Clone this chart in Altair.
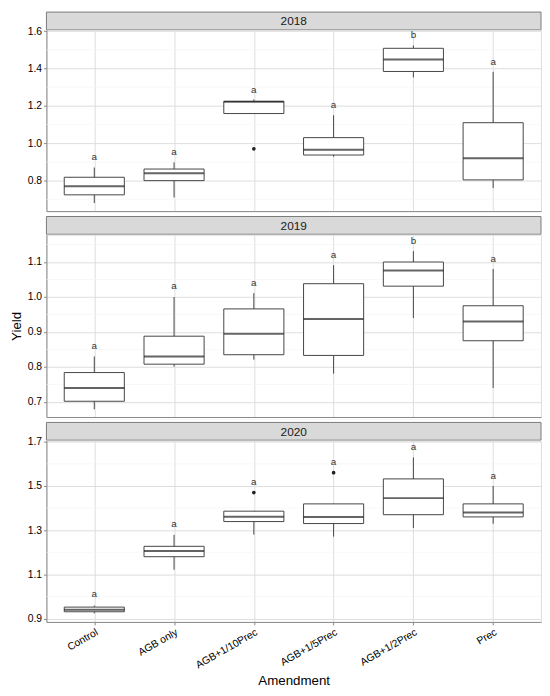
import altair as alt
import pandas as pd

amendments = ["Control", "AGB only", "AGB+1/10Prec", "AGB+1/5Prec", "AGB+1/2Prec", "Prec"]

# 2018
lower_2018 = [0.68, 0.71, 1.159, 0.928, 1.352, 0.76]
q1_2018 = [0.724, 0.80, 1.159, 0.937, 1.384, 0.804]
median_2018 = [0.77, 0.84, 1.222, 0.965, 1.448, 0.92]
q3_2018 = [0.818, 0.862, 1.224, 1.03, 1.508, 1.11]
upper_2018 = [0.87, 0.898, 1.234, 1.15, 1.523, 1.382]
label_y_2018 = [0.925, 0.955, 1.287, 1.206, 1.579, 1.436]
letters_2018 = ["a", "a", "a", "a", "b", "a"]
outlier_cat_2018 = ["AGB+1/10Prec"]
outlier_val_2018 = [0.97]

# 2019
lower_2019 = [0.679, 0.801, 0.821, 0.781, 0.94, 0.74]
q1_2019 = [0.702, 0.808, 0.835, 0.833, 1.031, 0.875]
median_2019 = [0.74, 0.83, 0.895, 0.937, 1.076, 0.93]
q3_2019 = [0.784, 0.888, 0.966, 1.038, 1.10, 0.975]
upper_2019 = [0.83, 1.0, 1.011, 1.091, 1.131, 1.08]
label_y_2019 = [0.86, 1.03, 1.041, 1.121, 1.161, 1.109]
letters_2019 = ["a", "a", "a", "a", "b", "a"]
outlier_cat_2019 = []
outlier_val_2019 = []

# 2020
lower_2020 = [0.924, 1.121, 1.28, 1.271, 1.31, 1.329]
q1_2020 = [0.931, 1.18, 1.339, 1.33, 1.37, 1.36]
median_2020 = [0.94, 1.206, 1.361, 1.36, 1.445, 1.38]
q3_2020 = [0.952, 1.227, 1.386, 1.419, 1.532, 1.419]
upper_2020 = [0.959, 1.279, 1.386, 1.419, 1.629, 1.50]
label_y_2020 = [1.009, 1.327, 1.517, 1.606, 1.676, 1.547]
letters_2020 = ["a", "a", "a", "a", "a", "a"]
outlier_cat_2020 = ["AGB+1/10Prec", "AGB+1/5Prec"]
outlier_val_2020 = [1.47, 1.56]

domains = {"2018": [0.637, 1.607], "2019": [0.657, 1.178], "2020": [0.885, 1.705]}
major_ticks = {
    "2018": [0.8, 1.0, 1.2, 1.4, 1.6],
    "2019": [0.7, 0.8, 0.9, 1.0, 1.1],
    "2020": [0.9, 1.1, 1.3, 1.5, 1.7],
}
minor_ticks = {
    "2018": [0.7, 0.9, 1.1, 1.3, 1.5],
    "2019": [0.65, 0.75, 0.85, 0.95, 1.05, 1.15],
    "2020": [1.0, 1.2, 1.4, 1.6],
}

W = 502
FONT = "Liberation Sans"
BORDER = "#7a7a7a"


def strip_chart(year, gap):
    h = 18 + gap
    base = alt.Chart(pd.DataFrame({"year": [year]}))
    band = base.mark_rect(fill="#d9d9d9", stroke=BORDER, strokeWidth=1).encode(
        x=alt.value(0), x2=alt.value(W), y=alt.value(gap), y2=alt.value(h)
    )
    label = base.mark_text(font=FONT, fontSize=12, color="#1a1a1a").encode(
        text="year:N", x=alt.value(W / 2), y=alt.value(gap + 9.5)
    )
    return alt.layer(band, label).properties(
        width=W, height=h, view=alt.ViewBackground(stroke="transparent")
    )


def box_panel(year, lower, q1, med, q3, upper, label_y, letters, out_cat, out_val, height, bottom, ytitle):
    df = pd.DataFrame({
        "amendment": amendments, "lower": lower, "q1": q1, "median": med,
        "q3": q3, "upper": upper, "label_y": label_y, "letter": letters,
    })
    out = pd.DataFrame({"amendment": out_cat, "value": out_val})
    minor = pd.DataFrame({"v": minor_ticks[year]})

    if bottom:
        xaxis = alt.Axis(title="Amendment", grid=True, labelAngle=-30, labelAlign="right",
                         labelBaseline="top", labelFontSize=10.5, labelPadding=2, tickSize=3,
                         titleFontSize=13.5, titleFontWeight="normal", titleColor="#000000",
                         titlePadding=3)
    else:
        xaxis = alt.Axis(title=None, grid=True, labels=False, ticks=False)
    x = alt.X("amendment:N", sort=amendments, scale=alt.Scale(type="point", padding=0.6), axis=xaxis)
    yscale = alt.Scale(domain=domains[year], nice=False, zero=False)
    yaxis = alt.Axis(values=major_ticks[year], format=".1f", grid=True, labelFontSize=10.5,
                     tickSize=3, labelPadding=2, titleFontSize=13.5, titleFontWeight="normal",
                     titleColor="#000000", titlePadding=4)

    def yenc(field):
        return alt.Y(field, scale=yscale, axis=yaxis, title=ytitle)

    grid_minor = alt.Chart(minor).mark_rule(color="#f3f3f3", strokeWidth=0.6).encode(y=yenc("v:Q"))
    base = alt.Chart(df).encode(x=x)
    whisker = base.mark_rule(color="#444444", strokeWidth=1).encode(y=yenc("lower:Q"), y2="upper:Q")
    box = base.mark_bar(size=61, fill="white", stroke="#444444", strokeWidth=1).encode(
        y=yenc("q1:Q"), y2="q3:Q"
    )
    median_line = base.mark_tick(size=61, thickness=2, color="#222222").encode(y=yenc("median:Q"))
    letters_txt = base.mark_text(font=FONT, fontSize=10, color="#333333", baseline="middle").encode(
        y=yenc("label_y:Q"), text="letter:N"
    )
    layers = [grid_minor, whisker, box, median_line, letters_txt]
    if len(out):
        points = alt.Chart(out).mark_circle(size=14, color="#222222", opacity=1).encode(
            x=x, y=yenc("value:Q")
        )
        layers.append(points)
    return alt.layer(*layers).properties(width=W, height=height)


chart = alt.vconcat(
    strip_chart("2018", 0),
    box_panel("2018", lower_2018, q1_2018, median_2018, q3_2018, upper_2018, label_y_2018,
              letters_2018, outlier_cat_2018, outlier_val_2018, 184, False, None),
    strip_chart("2019", 5.5),
    box_panel("2019", lower_2019, q1_2019, median_2019, q3_2019, upper_2019, label_y_2019,
              letters_2019, outlier_cat_2019, outlier_val_2019, 185, False, "Yield"),
    strip_chart("2020", 5.5),
    box_panel("2020", lower_2020, q1_2020, median_2020, q3_2020, upper_2020, label_y_2020,
              letters_2020, outlier_cat_2020, outlier_val_2020, 184, True, None),
    spacing=0,
    bounds="flush",
).properties(
    padding={"top": -2, "left": 0, "right": 0, "bottom": 0}
).configure_view(
    stroke=BORDER, strokeWidth=1
).configure_axis(
    labelFont=FONT, titleFont=FONT, labelColor="#4d4d4d", tickColor="#333333",
    gridColor="#ebebeb", gridWidth=1, domain=False
).configure(background="white")

chart.save("out.html", embed_options={"renderer": "svg", "actions": False})
